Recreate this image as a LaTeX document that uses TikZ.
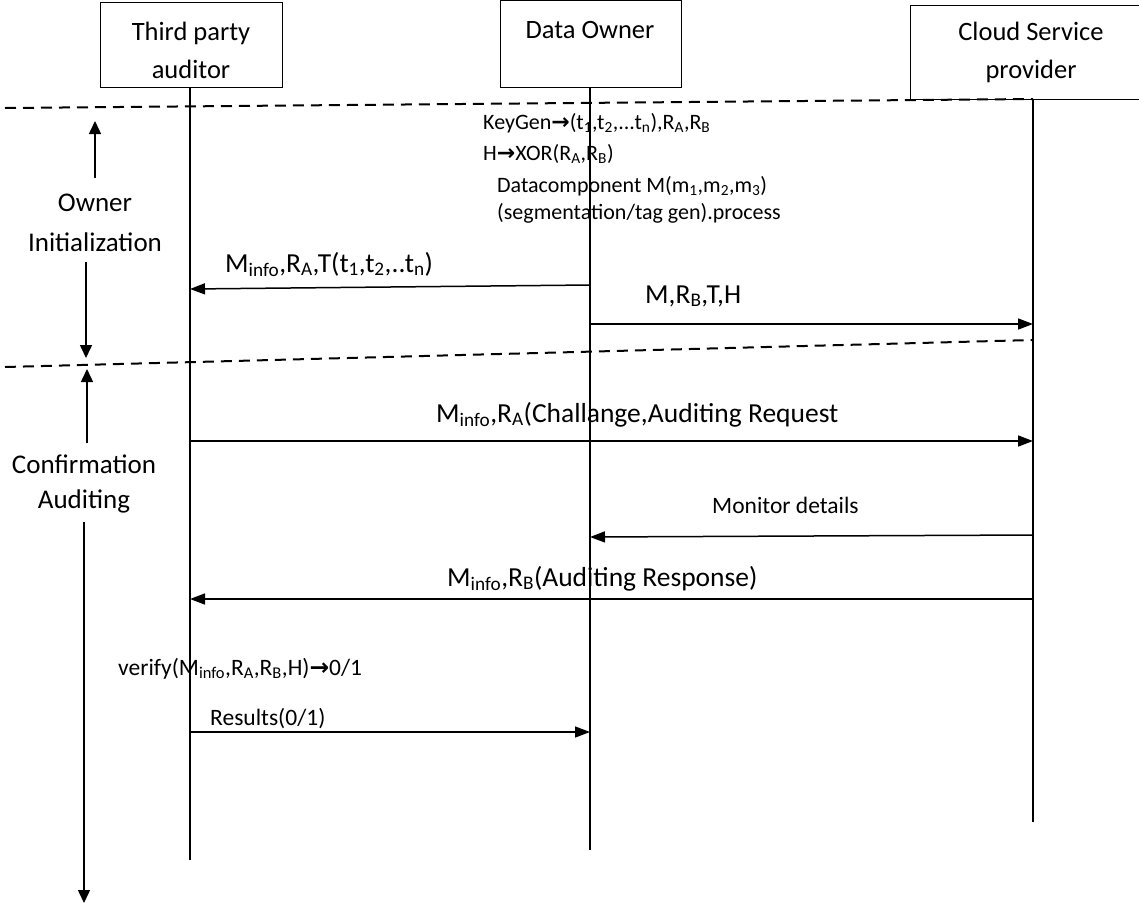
\documentclass[tikz,border=0pt]{standalone}
\usepackage{fontspec}
\setmainfont{Carlito}
\newfontfamily\arrowfont{DejaVu Sans}
\usetikzlibrary{arrows.meta}
\newcommand{\rarr}{{\arrowfont\bfseries →}}
\newcommand{\sbs}[1]{\textsubscript{#1}}
\begin{document}
\begin{tikzpicture}[x=1pt,y=-1pt,
  headbox/.style={draw,line width=1.4pt,inner sep=0pt,anchor=north west},
  headlabel/.style={font=\fontsize{26.5}{38}\selectfont,align=center,inner sep=0pt},
  life/.style={line width=1.5pt},
  msg/.style={line width=1.5pt,-{Triangle[length=15pt,width=11pt]}},
  phase/.style={line width=1.5pt,-{Triangle[length=13pt,width=12pt]}},
  divider/.style={line width=2pt,dash pattern=on 11pt off 7pt},
  lbl/.style={font=\fontsize{27.5}{30}\selectfont,anchor=base west,inner sep=0pt},
  lblb/.style={font=\fontsize{23.5}{28}\selectfont,anchor=base west,inner sep=0pt},
  small/.style={font=\fontsize{22}{26}\selectfont,anchor=base west,inner sep=0pt},
  side/.style={font=\fontsize{27}{40}\selectfont,align=center,inner sep=0pt}]
\useasboundingbox (0,0) rectangle (1139,905);
\clip (0,0) rectangle (1139,905);
\fill[white] (0,0) rectangle (1139,905);

% heads
\node[headbox,minimum width=182pt,minimum height=85pt] (tpa) at (100,2) {};
\node[headlabel] (tpal) at (191,50) {Third party\\auditor};
\node[headbox,minimum width=181pt,minimum height=87pt] (do) at (500,0) {};
\node[headlabel] (dol) at (590,30) {Data Owner};
\node[headbox,minimum width=240pt,minimum height=94pt] (csp) at (910,5) {};
\node[headlabel] (cspl) at (1031,52) {Cloud Service\\provider};

% lifelines
\coordinate (tpaend) at (190,860);
\coordinate (doend) at (590,850);
\coordinate (cspend) at (1033,822);
\draw[life] (tpa.south -| tpaend) -- (tpaend);
\draw[life] (do.south -| doend) -- (doend);
\draw[life] (csp.south -| cspend) -- (cspend);

% dividers
\coordinate (d1a) at (5,108);
\coordinate (d1b) at (1033,99);
\coordinate (d2a) at (5,367);
\coordinate (d2b) at (1033,340);
\draw[divider] (d1a) -- (d1b);
\draw[divider] (d2a) -- (d2b);

% owner text
\node[small] (k1) at (483,129) {KeyGen\rarr(t\sbs{1},t\sbs{2},...t\sbs{n}),R\sbs{A},R\sbs{B}};
\node[small] (k2) at (483,160) {H\rarr XOR(R\sbs{A},R\sbs{B})};
\node[small] (k3) at (497,192) {Datacomponent M(m\sbs{1},m\sbs{2},m\sbs{3})};
\node[small] (k4) at (497,219) {(segmentation/tag gen).process};

% messages
\coordinate (m1s) at (590,285); \coordinate (m1e) at (190,289);
\draw[msg] (m1s) -- (m1e);
\node[lbl] (l1) at (225,272) {M\sbs{info},R\sbs{A},T(t\sbs{1},t\sbs{2},..t\sbs{n})};

\coordinate (m2s) at (590,324); \coordinate (m2e) at (1033,324);
\draw[msg] (m2s) -- (m2e);
\node[lbl] (l2) at (645,303) {M,R\sbs{B},T,H};

\coordinate (m3s) at (190,441); \coordinate (m3e) at (1033,441);
\draw[msg] (m3s) -- (m3e);
\node[lbl] (l3) at (436,422) {M\sbs{info},R\sbs{A}(Challange,Auditing Request};

\coordinate (m4s) at (1033,535); \coordinate (m4e) at (590,537);
\draw[msg] (m4s) -- (m4e);
\node[lblb] (l4) at (712,513) {Monitor details};

\coordinate (m5s) at (1033,599); \coordinate (m5e) at (190,599);
\draw[msg] (m5s) -- (m5e);
\node[lbl] (l5) at (447,586) {M\sbs{info},R\sbs{B}(Auditing Response)};

\node[lblb] (l6) at (118,675) {verify(M\sbs{info},R\sbs{A},R\sbs{B},H)\rarr0/1};

\coordinate (m7s) at (190,732); \coordinate (m7e) at (590,732);
\draw[msg] (m7s) -- (m7e);
\node[lblb] (l7) at (210,725) {Results(0/1)};

% phases
\node[side] (own) at (95,223) {Owner\\Initialization};
\coordinate (o1) at (95,121);
\coordinate (o2) at (86,358);
\draw[phase] (95,178) -- (o1);
\draw[phase] (86,262) -- (o2);
\node[side,font=\fontsize{27}{35}\selectfont] (conf) at (84,484) {Confirmation\\Auditing};
\coordinate (c1) at (87,369);
\coordinate (c2) at (84,903);
\draw[phase] (87,443) -- (c1);
\draw[phase] (84,522) -- (c2);
\end{tikzpicture}
\end{document}
